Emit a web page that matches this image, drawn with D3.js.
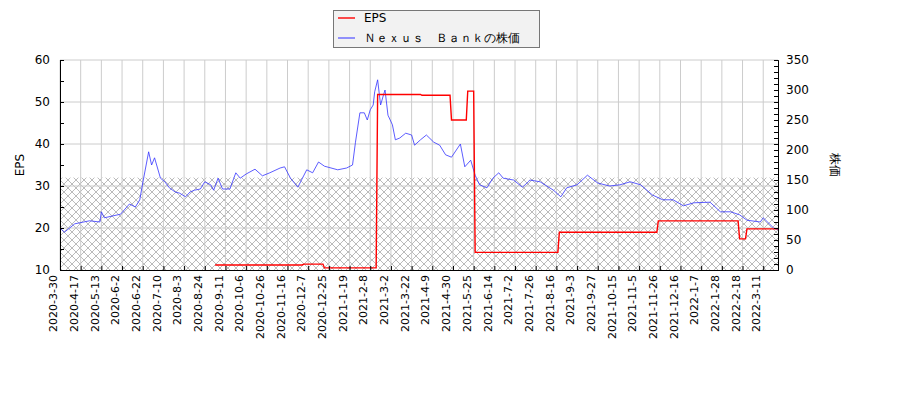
<!DOCTYPE html>
<html><head><meta charset="utf-8">
<script src="https://cdn.jsdelivr.net/npm/d3@7"></script>
<style>body{margin:0;background:#fff}text{font-family:"DejaVu Sans",sans-serif}</style>
</head><body><svg id="c" width="900" height="400"></svg>
<script>
// tick labels, one every 14 trading days
var tickLabels = ["2020-3-30","2020-4-17","2020-5-13","2020-6-2","2020-6-22","2020-7-10","2020-8-3","2020-8-24","2020-9-11","2020-10-6","2020-10-26","2020-11-16","2020-12-7","2020-12-25","2021-1-19","2021-2-8","2021-3-2","2021-3-22","2021-4-9","2021-4-30","2021-5-25","2021-6-14","2021-7-2","2021-7-26","2021-8-16","2021-9-3","2021-9-27","2021-10-15","2021-11-5","2021-11-26","2021-12-16","2022-1-7","2022-1-28","2022-2-18","2022-3-11"];
var nDays = 487;

// price (right axis), day index / value
var priceIdx = [0,3,10,20,27,28,30,41,47,51,54,56,60,62,64,68,71,74,78,81,85,88,91,95,98,102,104,107,110,115,119,122,126,132,137,142,149,152,156,161,167,171,175,179,188,194,198,200,203,206,208,210,212,213,215,217,219,220,222,225,227,230,234,238,240,244,248,253,257,261,265,271,274,278,281,284,289,293,297,300,307,313,317,318,325,334,339,343,350,357,364,372,379,386,393,401,408,415,422,429,440,447,454,460,465,474,476,483,486];
var priceVal = [70,63,77,82,80,97,87,93,110,105,117,145,197,175,187,153,147,137,130,128,122,130,133,135,147,142,133,153,135,135,162,153,160,168,157,162,170,172,153,138,167,162,180,173,167,170,175,213,262,262,250,267,275,297,317,275,292,300,258,242,217,220,228,225,208,217,225,213,208,192,188,210,172,183,158,142,137,153,162,153,150,138,147,150,147,133,122,137,142,158,145,140,142,147,142,125,117,117,107,112,113,97,97,92,83,80,87,70,67];

// EPS (left axis), step changes
var epsIdx = [105,164,165,178,179,214,215,244,245,264,265,275,276,280,281,337,338,404,405,459,460,464,465,486];
var epsVal = [11.2,11.2,11.4,11.4,10.5,10.5,51.8,51.8,51.6,51.6,45.7,45.7,52.6,52.6,14.2,14.2,19.0,19.0,21.7,21.7,17.4,17.4,19.8,19.8];

var svg = d3.select("#c");
var L = 60, R = 778, T = 60, B = 270;
var x = d3.scaleLinear().domain([0, nDays - 1]).range([L, R]);
var yL = d3.scaleLinear().domain([10, 60]).range([B, T]);
var yR = d3.scaleLinear().domain([0, 350]).range([B, T]);

// hatch pattern
var defs = svg.append("defs");
var pat = defs.append("pattern").attr("id", "h").attr("patternUnits", "userSpaceOnUse")
    .attr("width", 8).attr("height", 8);
pat.append("path").attr("d", "M0,0L8,8M8,0L0,8").attr("stroke", "#aaa").attr("stroke-width", 0.8);
svg.append("rect").attr("x", L).attr("y", yL(32)).attr("width", R - L).attr("height", B - yL(32))
    .attr("fill", "url(#h)");

// grid
var g = svg.append("g").attr("stroke", "#ccc").attr("stroke-width", 1);
tickLabels.forEach(function(t, i) {
    g.append("line").attr("x1", x(i * 14)).attr("x2", x(i * 14)).attr("y1", T).attr("y2", B);
});
[20, 30, 40, 50, 60].forEach(function(v) {
    g.append("line").attr("x1", L).attr("x2", R).attr("y1", yL(v)).attr("y2", yL(v));
});

// lines
svg.append("path").datum(priceIdx).attr("fill", "none").attr("stroke", "#3333ff").attr("stroke-width", 0.8)
    .attr("d", d3.line().x(function(d) { return x(d); }).y(function(d, i) { return yR(priceVal[i]); }));
svg.append("path").datum(epsIdx).attr("fill", "none").attr("stroke", "#ff0000").attr("stroke-width", 1.4)
    .attr("d", d3.line().x(function(d) { return x(d); }).y(function(d, i) { return yL(epsVal[i]); }));

// axes
var axL = svg.append("g").attr("transform", "translate(" + L + ",0)")
    .call(d3.axisLeft(yL).tickValues([10, 20, 30, 40, 50, 60]).tickSize(0).tickPadding(10).tickFormat(d3.format("d")));
svg.append("g").attr("transform", "translate(" + L + ",0)")
    .call(d3.axisRight(yL).tickValues(d3.range(10, 61, 5)).tickSize(4).tickFormat(""));
var axR = svg.append("g").attr("transform", "translate(" + R + ",0)")
    .call(d3.axisRight(yR).tickValues(d3.range(0, 351, 50)).tickSize(0).tickPadding(8).tickFormat(d3.format("d")));
svg.append("g").attr("transform", "translate(" + R + ",0)")
    .call(d3.axisLeft(yR).tickValues(d3.range(0, 351, 10)).tickSize(4).tickFormat(""));
var axB = svg.append("g").attr("transform", "translate(0," + B + ")")
    .call(d3.axisTop(x).tickValues(d3.range(0, tickLabels.length).map(function(i) { return i * 14; }))
        .tickSize(4).tickFormat(""));
svg.append("g").attr("transform", "translate(0," + B + ")")
    .call(d3.axisBottom(x).tickValues(d3.range(0, tickLabels.length).map(function(i) { return i * 14; }))
        .tickSize(0).tickFormat(function(d) { return tickLabels[d / 14]; }))
    .selectAll("text").attr("transform", "rotate(-90)").attr("text-anchor", "end")
    .attr("dx", "-5").attr("dy", "-0.3em").attr("x", 0).attr("y", 0).style("font-size", "11px");
svg.selectAll(".domain").attr("stroke", "#000");
svg.selectAll(".tick text").attr("fill", "#000");
axL.selectAll("text").style("font-size", "12px");
axR.selectAll("text").style("font-size", "12px");

svg.append("text").attr("transform", "translate(24,165) rotate(-90)").attr("text-anchor", "middle")
    .style("font-size", "12px").text("EPS");
svg.append("text").attr("transform", "translate(831,165) rotate(90)").attr("text-anchor", "middle")
    .style("font-size", "12px").text("株価");

// legend
var lg = svg.append("g");
lg.append("rect").attr("x", 333.5).attr("y", 10.5).attr("width", 206).attr("height", 37)
    .attr("fill", "#f2f2f2").attr("stroke", "#777");
lg.append("line").attr("x1", 338).attr("x2", 355).attr("y1", 18).attr("y2", 18).attr("stroke", "#ff0000").attr("stroke-width", 1.4);
lg.append("line").attr("x1", 338).attr("x2", 355).attr("y1", 38).attr("y2", 38).attr("stroke", "#6666ff").attr("stroke-width", 1.4);
lg.append("text").attr("x", 364).attr("y", 22).style("font-size", "12px").text("EPS");
lg.append("text").attr("x", 364).attr("y", 42).style("font-size", "12px").text("Ｎｅｘｕｓ　Ｂａｎｋの株価");
</script></body></html>
